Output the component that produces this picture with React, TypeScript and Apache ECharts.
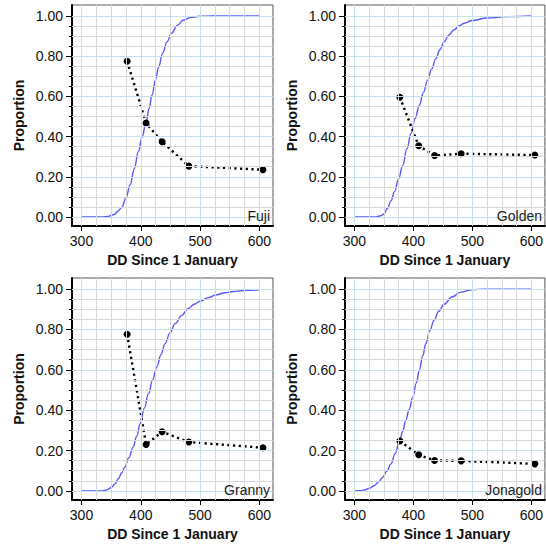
import React, { useEffect, useRef } from "react";
import * as echarts from "echarts";

// Observed points (degree-days since 1 January) and proportions
const ddObserved = [377, 409, 436, 481, 606];
const fujiObs = [0.775, 0.467, 0.374, 0.253, 0.235];
const goldenObs = [0.596, 0.354, 0.306, 0.315, 0.308];
const grannyObs = [0.776, 0.23, 0.293, 0.242, 0.214];
const jonagoldObs = [0.247, 0.179, 0.151, 0.149, 0.134];

// Fitted curves: [DD, proportion]
const fujiCurve = [
  [300, 0], [335, 0], [345, 0.003], [355, 0.012], [362, 0.03], [368, 0.048], [375, 0.095],
  [382, 0.159], [389, 0.24], [396, 0.325], [402, 0.395], [409, 0.472], [414, 0.54],
  [419, 0.607], [425, 0.685], [430, 0.745], [437, 0.815], [444, 0.87], [452, 0.915],
  [462, 0.955], [472, 0.98], [485, 0.994], [500, 0.999], [520, 1], [600, 1],
];
const goldenCurve = [
  [300, 0], [335, 0], [345, 0.006], [350, 0.015], [356, 0.043], [362, 0.08], [368, 0.126],
  [375, 0.19], [382, 0.258], [389, 0.34], [396, 0.416], [403, 0.49], [410, 0.556],
  [417, 0.62], [424, 0.68], [431, 0.737], [438, 0.788], [445, 0.832], [452, 0.871],
  [460, 0.905], [469, 0.932], [478, 0.952], [486, 0.964], [500, 0.978], [525, 0.99],
  [560, 0.997], [600, 1],
];
const grannyCurve = [
  [300, 0], [335, 0], [343, 0.005], [351, 0.018], [357, 0.036], [362, 0.06], [368, 0.09],
  [373, 0.118], [380, 0.165], [387, 0.217], [393, 0.27], [399, 0.333], [406, 0.41],
  [413, 0.482], [420, 0.55], [427, 0.614], [434, 0.675], [441, 0.73], [449, 0.782],
  [458, 0.829], [469, 0.87], [480, 0.904], [490, 0.925], [500, 0.94], [514, 0.958],
  [528, 0.972], [542, 0.982], [556, 0.988], [578, 0.994], [600, 0.997],
];
const jonagoldCurve = [
  [300, 0], [310, 0.001], [317, 0.005], [325, 0.013], [334, 0.027], [341, 0.045],
  [348, 0.068], [355, 0.098], [362, 0.134], [369, 0.185], [376, 0.242], [382, 0.295],
  [387, 0.35], [393, 0.405], [399, 0.465], [405, 0.535], [410, 0.598], [416, 0.67],
  [421, 0.73], [428, 0.795], [435, 0.846], [443, 0.89], [452, 0.925], [466, 0.962],
  [480, 0.985], [500, 0.997], [520, 1], [600, 1],
];

const varieties = ["Fuji", "Golden", "Granny", "Jonagold"];
const xMajorTicks = [300, 400, 500, 600];
const xMinorTicks = [300, 325, 350, 375, 400, 425, 450, 475, 500, 525, 550, 575, 600];
const yMajorTicks = [0, 0.2, 0.4, 0.6, 0.8, 1.0];
const yMinorTicks = [
  0, 0.05, 0.1, 0.15, 0.2, 0.25, 0.3, 0.35, 0.4, 0.45, 0.5, 0.55, 0.6, 0.65, 0.7, 0.75,
  0.8, 0.85, 0.9, 0.95, 1.0,
];
const xAxisTitle = "DD Since 1 January";
const yAxisTitle = "Proportion";

const FONT = '"Liberation Sans", Arial, Helvetica, sans-serif';
const BLUE_GRID = "#c3e2ec";
const GRAY_GRID = "#d8d8d8";

export default function App() {
  const ref = useRef<HTMLDivElement>(null);

  useEffect(() => {
    if (!ref.current) return;
    const chart = echarts.init(ref.current, null, { renderer: "svg" });

    const curves = [fujiCurve, goldenCurve, grannyCurve, jonagoldCurve];
    const obs = [fujiObs, goldenObs, grannyObs, jonagoldObs];
    const layout = [
      { left: 72, top: 5, width: 201, height: 221 },
      { left: 345, top: 5, width: 200, height: 221 },
      { left: 72, top: 278, width: 201, height: 222 },
      { left: 345, top: 278, width: 200, height: 222 },
    ];

    const grid: any[] = [];
    const xAxis: any[] = [];
    const yAxis: any[] = [];
    const series: any[] = [];
    const graphic: any[] = [];

    layout.forEach((l, i) => {
      grid.push({
        left: l.left,
        top: l.top,
        width: l.width,
        height: l.height,
        show: true,
        borderColor: "#555",
        borderWidth: 1,
        backgroundColor: "#fff",
      });
      const xBase = {
        type: "value",
        gridIndex: i,
        min: 284,
        max: 623,
        position: "bottom",
        splitLine: { show: false },
      };
      xAxis.push({
        ...xBase,
        axisLine: { show: true, onZero: false, lineStyle: { color: "#000", width: 2 } },
        axisTick: { show: true, customValues: xMajorTicks, length: 5, lineStyle: { color: "#000", width: 1 } },
        axisLabel: {
          customValues: xMajorTicks,
          fontSize: 14,
          fontFamily: FONT,
          color: "#111",
          margin: 8,
        },
        name: xAxisTitle,
        nameLocation: "middle",
        nameGap: 27,
        nameTextStyle: { fontSize: 14, fontWeight: "bold", fontFamily: FONT, color: "#111" },
      });
      xAxis.push({
        ...xBase,
        axisLine: { show: false },
        axisTick: { show: true, customValues: xMinorTicks, length: 3, lineStyle: { color: "#000", width: 1 } },
        axisLabel: { show: false, customValues: xMinorTicks },
      });
      const yBase = {
        type: "value",
        gridIndex: i,
        min: -0.045,
        max: 1.055,
        position: "left",
        splitLine: { show: false },
      };
      yAxis.push({
        ...yBase,
        axisLine: { show: true, onZero: false, lineStyle: { color: "#000", width: 2 } },
        axisTick: { show: true, customValues: yMajorTicks, length: 6, lineStyle: { color: "#000", width: 1 } },
        axisLabel: {
          customValues: yMajorTicks,
          fontSize: 14,
          fontFamily: FONT,
          color: "#111",
          margin: 9,
          formatter: (v: number) => v.toFixed(2),
        },
        name: yAxisTitle,
        nameLocation: "middle",
        nameGap: 46,
        nameTextStyle: { fontSize: 14, fontWeight: "bold", fontFamily: FONT, color: "#111" },
      });
      yAxis.push({
        ...yBase,
        axisLine: { show: false },
        axisTick: { show: true, customValues: yMinorTicks, length: 3, lineStyle: { color: "#000", width: 1 } },
        axisLabel: { show: false, customValues: yMinorTicks },
      });

      const xi = 2 * i;
      const yi = 2 * i;
      const gridLines: any[] = [];
      xMinorTicks.forEach((v) => {
        if (!xMajorTicks.includes(v)) gridLines.push({ xAxis: v, lineStyle: { color: GRAY_GRID, width: 1, type: "solid" } });
      });
      yMinorTicks.forEach((v) => {
        const major = yMajorTicks.some((m) => Math.abs(m - v) < 1e-9);
        if (!major) gridLines.push({ yAxis: v, lineStyle: { color: GRAY_GRID, width: 1, type: "solid" } });
      });
      xMajorTicks.forEach((v) => gridLines.push({ xAxis: v, lineStyle: { color: BLUE_GRID, width: 1, type: "solid" } }));
      yMajorTicks.forEach((v) => gridLines.push({ yAxis: v, lineStyle: { color: BLUE_GRID, width: 1, type: "solid" } }));

      series.push({
        type: "line",
        xAxisIndex: xi,
        yAxisIndex: yi,
        data: [],
        silent: true,
        z: 1,
        markLine: {
          silent: true,
          symbol: ["none", "none"],
          label: { show: false },
          animation: false,
          data: gridLines,
        },
      });
      series.push({
        type: "line",
        xAxisIndex: xi,
        yAxisIndex: yi,
        data: curves[i],
        showSymbol: false,
        smooth: 0.4,
        smoothMonotone: "x",
        z: 3,
        lineStyle: { color: "#5858f8", width: 1.4 },
      });
      series.push({
        type: "line",
        xAxisIndex: xi,
        yAxisIndex: yi,
        data: ddObserved.map((d, k) => [d, obs[i][k]]),
        symbol: "circle",
        symbolSize: 7,
        showSymbol: true,
        z: 4,
        itemStyle: { color: "#000" },
        lineStyle: { color: "#000", width: 2.4, type: [2.2, 3.5] },
      });

      graphic.push({
        type: "text",
        x: l.left + l.width - 3,
        y: l.top + l.height - 3,
        style: {
          text: varieties[i],
          fontSize: 14,
          fontFamily: FONT,
          fill: "#222",
          textAlign: "right",
          textVerticalAlign: "bottom",
        },
        z: 10,
      });
    });

    chart.setOption({
      animation: false,
      backgroundColor: "#fff",
      grid,
      xAxis,
      yAxis,
      series,
      graphic,
    });

    return () => chart.dispose();
  }, []);

  return (
    <div
      ref={ref}
      style={{ position: "fixed", left: 0, top: 0, width: 546, height: 544, background: "#fff" }}
    />
  );
}
